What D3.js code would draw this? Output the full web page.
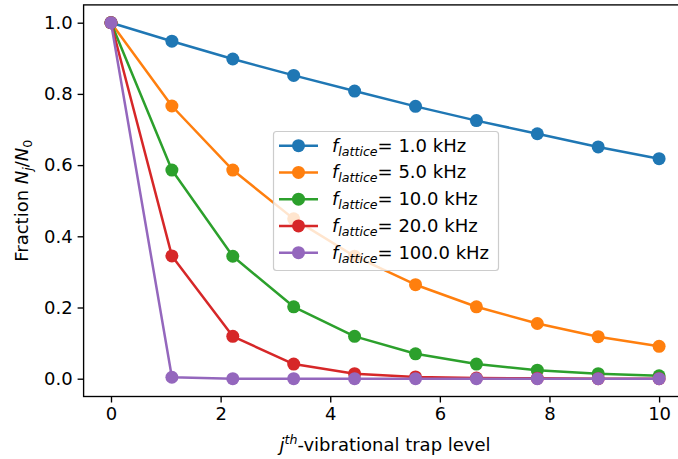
<!DOCTYPE html>
<html>
<head>
<meta charset="utf-8">
<script src="https://cdn.jsdelivr.net/npm/d3@7"></script>
<style>
  body { margin: 0; background: #fff; }
  svg { display: block; font-family: "DejaVu Sans", sans-serif; }
</style>
</head>
<body>
<div id="chart"></div>
<script>
// trap level (x) and fraction N_j/N_0 for each lattice frequency
var levels = [0, 1.111, 2.222, 3.333, 4.444, 5.556, 6.667, 7.778, 8.889, 10];
var freqs = ["1.0", "5.0", "10.0", "20.0", "100.0"];
var frac1 = [1.0, 0.948, 0.898, 0.852, 0.808, 0.765, 0.725, 0.688, 0.651, 0.618];
var frac5 = [1.0, 0.766, 0.586, 0.449, 0.344, 0.264, 0.202, 0.155, 0.118, 0.091];
var frac10 = [1.0, 0.586, 0.344, 0.202, 0.119, 0.070, 0.041, 0.024, 0.014, 0.008];
var frac20 = [1.0, 0.345, 0.119, 0.041, 0.014, 0.005, 0.002, 0.001, 0.0, 0.0];
var frac100 = [1.0, 0.004, 0.0, 0.0, 0.0, 0.0, 0.0, 0.0, 0.0, 0.0];
var xTicks = [0, 2, 4, 6, 8, 10];
var yTicks = [0.0, 0.2, 0.4, 0.6, 0.8, 1.0];

var allSeries = [frac1, frac5, frac10, frac20, frac100];
var colors = ["#1f77b4", "#ff7f0e", "#2ca02c", "#d62728", "#9467bd"];

var width = 678, height = 459;
var axL = 83.6, axR = 686.5, axT = 4.9, axB = 396.5;
var fs = 18, fsSub = 12.6;

var svg = d3.select("#chart").append("svg")
    .attr("width", width)
    .attr("height", height);

var x = d3.scaleLinear().domain([-0.5, 10.5]).range([axL, axR]);
var y = d3.scaleLinear().domain([-0.05, 1.05]).range([axB, axT]);

var line = d3.line()
    .x(function(d, i) { return x(levels[i]); })
    .y(function(d) { return y(d); });

allSeries.forEach(function(vals, k) {
  var g = svg.append("g");
  g.append("path")
      .attr("d", line(vals))
      .attr("fill", "none")
      .attr("stroke", colors[k])
      .attr("stroke-width", 2.5)
      .attr("stroke-linejoin", "round");
  g.selectAll("circle")
      .data(vals)
      .enter()
      .append("circle")
      .attr("cx", function(d, i) { return x(levels[i]); })
      .attr("cy", function(d) { return y(d); })
      .attr("r", 6.5)
      .attr("fill", colors[k]);
});

// axes
var xAxis = d3.axisBottom(x).tickValues(xTicks).tickSize(6).tickPadding(5)
    .tickFormat(d3.format("d"));
var yAxis = d3.axisLeft(y).tickValues(yTicks).tickSize(6).tickPadding(5)
    .tickFormat(d3.format(".1f"));

svg.append("g")
    .attr("transform", "translate(0," + axB + ")")
    .call(xAxis);
svg.append("g")
    .attr("transform", "translate(" + axL + ",0)")
    .call(yAxis);

svg.selectAll(".tick text")
    .attr("font-size", fs)
    .attr("font-family", "DejaVu Sans")
    .attr("fill", "#000");
svg.selectAll(".tick line").attr("stroke", "#000").attr("stroke-width", 1.35);
svg.selectAll(".domain").remove();

svg.append("rect")
    .attr("x", axL)
    .attr("y", axT)
    .attr("width", axR - axL)
    .attr("height", axB - axT)
    .attr("fill", "none")
    .attr("stroke", "#000")
    .attr("stroke-width", 1.35);

// axis labels
var xl = svg.append("text")
    .attr("x", (axL + axR) / 2)
    .attr("y", 451)
    .attr("text-anchor", "middle")
    .attr("font-size", fs);
xl.append("tspan").attr("font-style", "italic").text("j");
xl.append("tspan").attr("font-style", "italic").attr("font-size", fsSub).attr("dy", -7).text("th");
xl.append("tspan").attr("dy", 7).text("-vibrational trap level");

var yl = svg.append("text")
    .attr("transform", "translate(28," + ((axT + axB) / 2) + ") rotate(-90)")
    .attr("text-anchor", "middle")
    .attr("font-size", fs);
yl.append("tspan").text("Fraction ");
yl.append("tspan").attr("font-style", "italic").text("N");
yl.append("tspan").attr("font-style", "italic").attr("font-size", fsSub).attr("dy", 4).text("j");
yl.append("tspan").attr("dy", -4).text("/");
yl.append("tspan").attr("font-style", "italic").text("N");
yl.append("tspan").attr("font-size", fsSub).attr("dy", 4).text("0");

// legend
var lg = svg.append("g");
lg.append("rect")
    .attr("x", 273.5)
    .attr("y", 131.5)
    .attr("width", 225)
    .attr("height", 139)
    .attr("rx", 3)
    .attr("fill", "rgba(255,255,255,0.8)")
    .attr("stroke", "#ccc")
    .attr("stroke-width", 1.2);

freqs.forEach(function(f, k) {
  var yy = 145.7 + k * 26.75;
  lg.append("line")
      .attr("x1", 279).attr("x2", 318)
      .attr("y1", yy).attr("y2", yy)
      .attr("stroke", colors[k])
      .attr("stroke-width", 2.5);
  lg.append("circle")
      .attr("cx", 298.5).attr("cy", yy)
      .attr("r", 6.5)
      .attr("fill", colors[k]);
  var t = lg.append("text")
      .attr("x", 332)
      .attr("y", yy + 6)
      .attr("font-size", fs);
  t.append("tspan").attr("font-style", "italic").text("f");
  t.append("tspan").attr("font-style", "italic").attr("font-size", fsSub).attr("dy", 4).text("lattice");
  t.append("tspan").attr("dy", -4).text("= " + f + " kHz");
});
</script>
</body>
</html>
